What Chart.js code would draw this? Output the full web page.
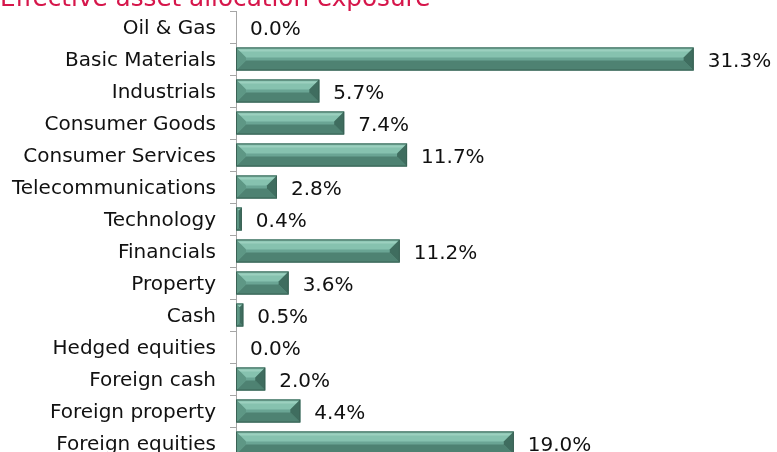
<!DOCTYPE html>
<html>
	<head>
		<title>Effective asset allocation exposure</title>
		<script src="https://cdn.jsdelivr.net/npm/chart.js@4.4.0/dist/chart.umd.min.js"></script>
		<style>
			body { margin: 0; background: #ffffff; overflow: hidden; }
			.chart-box { position: absolute; left: 0; top: -20px; width: 777px; height: 480px; }
		</style>
	</head>
	<body>
		<div class="chart-box">
			<canvas id="myChart"></canvas>
		</div>
		<script>
			// dane z wykresu
			const sectors = ['Oil & Gas', 'Basic Materials', 'Industrials', 'Consumer Goods', 'Consumer Services',
				'Telecommunications', 'Technology', 'Financials', 'Property', 'Cash', 'Hedged equities',
				'Foreign cash', 'Foreign property', 'Foreign equities']
			const exposure = [0.0, 31.3, 5.7, 7.4, 11.7, 2.8, 0.4, 11.2, 3.6, 0.5, 0.0, 2.0, 4.4, 19.0]

			const font = 'DejaVu Sans'

			// słupki z fazowaniem (bevel)
			const bevelBars = {
				id: 'bevelBars',
				afterDatasetsDraw(chart) {
					const c = chart.ctx
					const meta = chart.getDatasetMeta(0)
					meta.data.forEach(function (bar) {
						const p = bar.getProps(['x', 'y', 'base', 'height'], true)
						const l = p.base, r = p.x
						const t = p.y - p.height / 2, b = p.y + p.height / 2
						const w = r - l
						if (w <= 0.5) return
						const e = Math.min(10, w / 2, p.height / 2)
						function poly(pts, col) {
							c.beginPath()
							c.moveTo(pts[0][0], pts[0][1])
							for (let i = 1; i < pts.length; i++) c.lineTo(pts[i][0], pts[i][1])
							c.closePath()
							c.fillStyle = col
							c.fill()
						}
						c.save()
						poly([[l, t], [r, t], [r, b], [l, b]], '#6AA594')
						poly([[l, t], [r, t], [r - e, t + e], [l + e, t + e]], '#86C2AF')
						poly([[l, t + 2], [r - 2, t + 2], [r - 4, t + 4], [l + 2, t + 4]], '#9CD0BF')
						poly([[l, b], [r, b], [r - e, b - e], [l + e, b - e]], '#4E8272')
						poly([[l, t], [l + e, t + e], [l + e, b - e], [l, b]], '#5E9785')
						poly([[r, t], [r - e, t + e], [r - e, b - e], [r, b]], '#3F6D5F')
						c.strokeStyle = '#3A6154'
						c.lineWidth = 1
						c.strokeRect(l + 0.5, t + 0.5, w - 1, b - t - 1)
						c.restore()
					})
				}
			}

			// etykiety wartości przy słupkach
			const valueLabels = {
				id: 'valueLabels',
				afterDatasetsDraw(chart) {
					const c = chart.ctx
					const meta = chart.getDatasetMeta(0)
					c.save()
					c.font = '20px "' + font + '"'
					c.fillStyle = '#111111'
					c.textAlign = 'left'
					c.textBaseline = 'middle'
					meta.data.forEach(function (bar, i) {
						c.fillText(exposure[i].toFixed(1) + '%', bar.x + 14, bar.y + 3)
					})
					c.restore()
				}
			}

			var ctx = document.getElementById('myChart').getContext('2d')
			var chart = new Chart(ctx, {
				type: 'bar',
				data: {
					labels: sectors,
					datasets: [{
						data: exposure,
						backgroundColor: 'rgba(0,0,0,0)',
						borderWidth: 0,
						categoryPercentage: 1,
						barPercentage: 0.72
					}]
				},
				options: {
					indexAxis: 'y',
					responsive: true,
					maintainAspectRatio: false,
					devicePixelRatio: 1,
					animation: false,
					events: [],
					layout: { padding: { left: 0, right: 0, top: 0, bottom: 1 } },
					scales: {
						x: {
							display: false,
							min: 0,
							max: 37
						},
						y: {
							// stała szerokość osi, bez dodatkowego marginesu góra/dół
							afterFit(scale) {
								scale.width = 236
								scale.paddingTop = 0
								scale.paddingBottom = 0
							},
							border: { display: true, color: '#A6A6A6', width: 1 },
							grid: { drawOnChartArea: false, drawTicks: true, tickLength: 6, color: '#A6A6A6', offset: true },
							ticks: { color: '#111111', padding: 14, labelOffset: 2, font: { family: font, size: 20 } }
						}
					},
					plugins: {
						legend: { display: false },
						tooltip: { enabled: false },
						title: {
							display: true,
							text: 'Effective asset allocation exposure',
							align: 'start',
							color: '#D6164B',
							font: { family: font, size: 24.7, weight: 'normal', lineHeight: '25px' },
							padding: { top: 7, bottom: -1 }
						}
					}
				},
				plugins: [bevelBars, valueLabels]
			})
		</script>
	</body>
</html>
